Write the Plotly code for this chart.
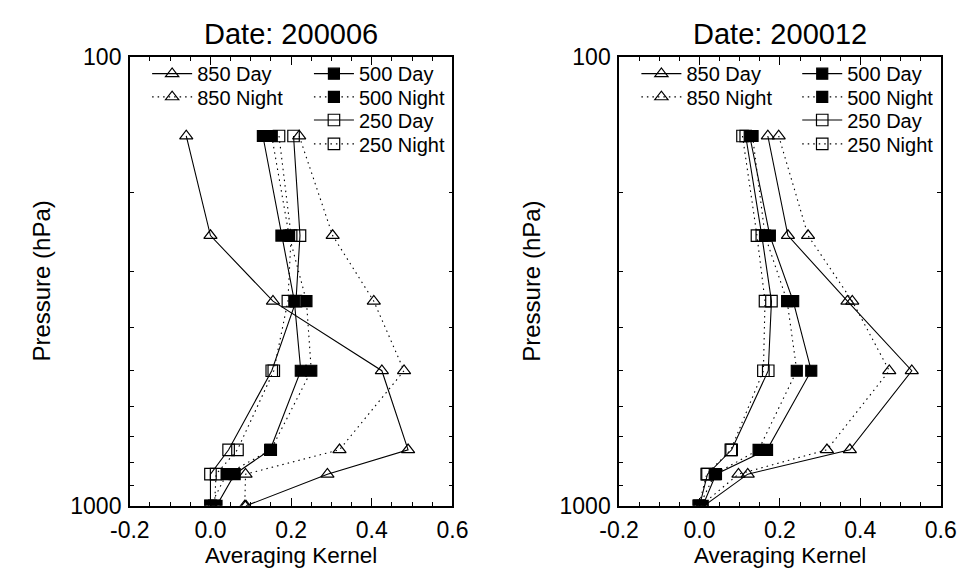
import plotly.graph_objects as go

# ---------------- data ----------------
levels = [150, 250, 350, 500, 750, 850, 1000]  # pressure (hPa)

# Date: 200006
k850_day_jun = [-0.06, 0.0, 0.155, 0.425, 0.49, 0.29, 0.088]
k850_night_jun = [0.22, 0.303, 0.405, 0.48, 0.32, 0.087, 0.085]
k500_day_jun = [0.13, 0.176, 0.208, 0.224, 0.148, 0.06, 0.015]
k500_night_jun = [0.152, 0.195, 0.238, 0.25, 0.15, 0.04, 0.0]
k250_day_jun = [0.206, 0.222, 0.212, 0.152, 0.045, 0.0, 0.0]
k250_night_jun = [0.17, 0.2, 0.192, 0.157, 0.067, 0.014, 0.01]

# Date: 200012
k850_day_dec = [0.17, 0.22, 0.368, 0.528, 0.374, 0.12, 0.011]
k850_night_dec = [0.197, 0.27, 0.38, 0.472, 0.317, 0.097, 0.003]
k500_day_dec = [0.125, 0.175, 0.233, 0.278, 0.168, 0.041, 0.008]
k500_night_dec = [0.132, 0.163, 0.218, 0.242, 0.147, 0.038, 0.0]
k250_day_dec = [0.115, 0.155, 0.179, 0.171, 0.08, 0.02, 0.0]
k250_night_dec = [0.107, 0.143, 0.163, 0.159, 0.078, 0.018, -0.002]

titles = ["Date: 200006", "Date: 200012"]
series_names = ["850 Day", "850 Night", "500 Day", "500 Night", "250 Day", "250 Night"]
x_ticks = [-0.2, 0.0, 0.2, 0.4, 0.6]
y_ticks = [100, 1000]
y_minor = [200, 300, 400, 500, 600, 700, 800, 900]

panels = [
    [k850_day_jun, k850_night_jun, k500_day_jun, k500_night_jun, k250_day_jun, k250_night_jun],
    [k850_day_dec, k850_night_dec, k500_day_dec, k500_night_dec, k250_day_dec, k250_night_dec],
]

# ---------------- styling ----------------
W, H = 976, 580
FONT = "Liberation Sans, Arial, Helvetica, sans-serif"
symbols = ["triangle-up-open", "triangle-up-open", "square", "square",
           "square-open", "square-open"]
sizes = [11.5, 11.5, 11, 11, 11.5, 11.5]
dashes = ["solid", "1.5px,4px", "solid", "1.5px,4px", "solid", "1.5px,4px"]

PX_L = [114, 622]
PX_R = [449, 956]
PX_T, PX_B = 46, 516
xdom = [[PX_L[i] / W, PX_R[i] / W] for i in range(2)]
ydom = [(H - PX_B) / H, (H - PX_T) / H]

leg_col_x = [[132, 300], [640, 807]]
leg_row_y = [63.5, 87.8, 112, 137]
entry_pos = [(0, 0), (0, 1), (1, 0), (1, 1), (1, 2), (1, 3)]  # (column, row)

fig = go.Figure()
layout = dict(
    width=W, height=H, margin=dict(l=0, r=0, t=0, b=0),
    paper_bgcolor="white", plot_bgcolor="white",
    font=dict(family=FONT, color="black"),
    showlegend=True,
)

leg_font = dict(family=FONT, size=20, color="black")
n = 0
for p, data in enumerate(panels):
    xa = "x" if p == 0 else "x2"
    ya = "y" if p == 0 else "y2"
    for i, (name, vals) in enumerate(zip(series_names, data)):
        n += 1
        lname = "legend" if n == 1 else "legend%d" % n
        fig.add_trace(go.Scatter(
            x=vals, y=levels, name=name, mode="lines+markers",
            xaxis=xa, yaxis=ya, showlegend=True,
            line=dict(color="black", width=1.1, dash=dashes[i]),
            marker=dict(symbol=symbols[i], size=sizes[i], color="black",
                        line=dict(color="black", width=1.2)),
            legend=lname,
        ))
        col, row = entry_pos[i]
        layout[lname] = dict(
            x=leg_col_x[p][col] / W, y=(H - leg_row_y[row]) / H,
            xanchor="left", yanchor="middle",
            bgcolor="rgba(0,0,0,0)", borderwidth=0, font=leg_font,
            itemwidth=40, visible=True,
        )

axis_common = dict(
    showline=True, linecolor="black", linewidth=1.5, mirror="ticks",
    ticks="inside", tickcolor="black", tickwidth=1.2, ticklen=8,
    showgrid=False, zeroline=False,
)

for p in range(2):
    sx = "" if p == 0 else "2"
    layout["xaxis" + sx] = dict(
        axis_common, domain=xdom[p], range=[-0.2, 0.6],
        tickvals=x_ticks, ticktext=["%.1f" % v for v in x_ticks],
        tickfont=dict(family=FONT, size=23, color="black"),
        ticklabelstandoff=3,
        minor=dict(dtick=0.05, tick0=0, ticks="inside", ticklen=4,
                   tickcolor="black", tickwidth=1.2),
        anchor="y" + sx,
    )
    layout["yaxis" + sx] = dict(
        axis_common, domain=ydom, type="log", range=[3, 2],
        tickvals=y_ticks, ticktext=[str(v) for v in y_ticks],
        tickfont=dict(family=FONT, size=23, color="black"),
        ticklabelstandoff=2,
        minor=dict(tickvals=y_minor, ticks="inside", ticklen=4,
                   tickcolor="black", tickwidth=1.2),
        anchor="x" + sx,
    )

annotations = []
ytitle_x = [22, 531]
for p in range(2):
    cx = (PX_L[p] + PX_R[p]) / 2
    annotations.append(dict(
        text=titles[p], x=cx / W, y=(H - 22) / H, xref="paper", yref="paper",
        xanchor="center", yanchor="middle", showarrow=False,
        font=dict(family=FONT, size=29, color="black"),
    ))
    annotations.append(dict(
        text="Averaging Kernel", x=cx / W, y=0, xref="paper", yref="paper",
        xanchor="center", yanchor="bottom", showarrow=False, yshift=-3,
        font=dict(family=FONT, size=22.5, color="black"),
    ))
    annotations.append(dict(
        text="Pressure (hPa)", x=ytitle_x[p] / W, y=(H - (PX_T + PX_B) / 2) / H,
        xref="paper", yref="paper", xanchor="center", yanchor="middle",
        textangle=-90, showarrow=False,
        font=dict(family=FONT, size=24, color="black"),
    ))
layout["annotations"] = annotations

fig.update_layout(**layout)
fig.write_html("out.html")
